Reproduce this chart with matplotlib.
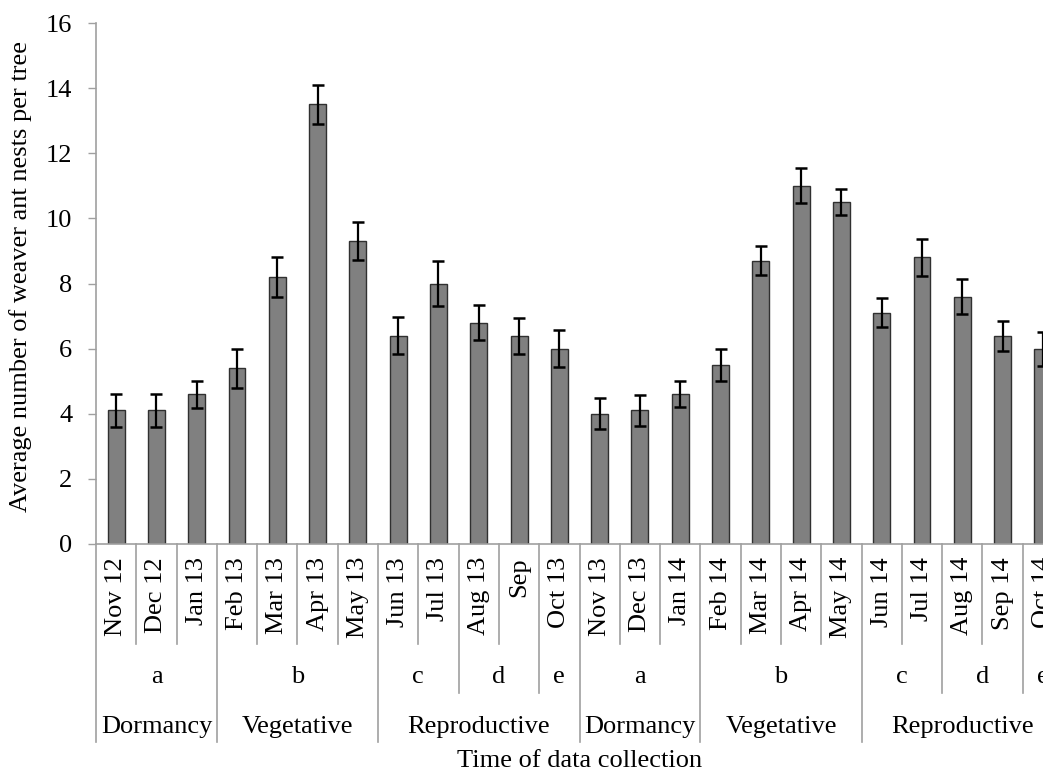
import numpy as np
import matplotlib
matplotlib.use("Agg")
import matplotlib.pyplot as plt
from matplotlib.transforms import blended_transform_factory

months = ["Nov 12", "Dec 12", "Jan 13", "Feb 13", "Mar 13", "Apr 13", "May 13",
          "Jun 13", "Jul 13", "Aug 13", "Sep", "Oct 13",
          "Nov 13", "Dec 13", "Jan 14", "Feb 14", "Mar 14", "Apr 14", "May 14",
          "Jun 14", "Jul 14", "Aug 14", "Sep 14", "Oct 14"]
means = [4.1, 4.1, 4.6, 5.4, 8.2, 13.5, 9.3, 6.4, 8.0, 6.8, 6.4, 6.0,
         4.0, 4.1, 4.6, 5.5, 8.7, 11.0, 10.5, 7.1, 8.8, 7.6, 6.4, 6.0]
errors = [0.5, 0.5, 0.42, 0.6, 0.6, 0.6, 0.58, 0.58, 0.68, 0.55, 0.55, 0.57,
          0.47, 0.48, 0.4, 0.5, 0.45, 0.54, 0.4, 0.44, 0.57, 0.54, 0.46, 0.52]
group_letters = ["a", "b", "c", "d", "e", "a", "b", "c", "d", "e"]
group_sizes = [3, 4, 2, 2, 1, 3, 4, 2, 2, 1]
phases = ["Dormancy", "Vegetative", "Reproductive",
          "Dormancy", "Vegetative", "Reproductive"]
phase_sizes = [3, 4, 5, 3, 4, 5]
yticks = [0, 2, 4, 6, 8, 10, 12, 14, 16]

W, H = 1043, 769
FONT = "Liberation Serif"
FS = 19
GRAY = "#a0a0a0"

fig = plt.figure(figsize=(W / 100, H / 100), dpi=100)
plt.rcParams["font.family"] = [FONT, "DejaVu Serif"]

x0, x1 = 96, 1063
ytop, ybase = 23, 544
ax = fig.add_axes([x0 / W, 1 - ybase / H, (x1 - x0) / W, (ybase - ytop) / H])

n = len(months)
x = np.arange(n)
ax.bar(x, means, width=0.42, color="#808080", edgecolor="#303030", linewidth=1.0, zorder=2)
ax.errorbar(x, means, yerr=errors, fmt="none", ecolor="black", elinewidth=1.6,
            capsize=4.6, capthick=1.8, zorder=3)

ax.set_xlim(-0.5, n - 0.5)
ax.set_ylim(0, 16)
ax.set_yticks(yticks)
ax.set_yticklabels([str(v) for v in yticks], fontsize=FS, family=FONT)
ax.tick_params(axis="y", direction="out", length=6, width=1, color=GRAY, pad=11)
ax.set_xticks([])
for s in ["top", "right"]:
    ax.spines[s].set_visible(False)
for s in ["left", "bottom"]:
    ax.spines[s].set_color(GRAY)
    ax.spines[s].set_linewidth(1.2)

tr = blended_transform_factory(ax.transData, fig.transFigure)

def fy(py):
    return 1 - py / H

# boundaries
phase_bounds = set(np.cumsum([0] + phase_sizes))
group_bounds = set(np.cumsum([0] + group_sizes))
for k in range(n + 1):
    if k in phase_bounds:
        yb = 742
    elif k in group_bounds:
        yb = 693
    else:
        yb = 644
    ax.plot([k - 0.5, k - 0.5], [fy(ybase), fy(yb)], color=GRAY, lw=1.2,
            transform=tr, clip_on=False)

# month labels
for i, m in enumerate(months):
    ax.text(i, fy(557), m, rotation=90, ha="center", va="top", fontsize=FS,
            family=FONT, transform=tr)

# group letters
start = 0
for lab, sz in zip(group_letters, group_sizes):
    c = start + sz / 2 - 0.5
    ax.text(c, fy(683), lab, ha="center", va="baseline", fontsize=FS,
            family=FONT, transform=tr)
    start += sz

# phases
start = 0
for lab, sz in zip(phases, phase_sizes):
    c = start + sz / 2 - 0.5
    ax.text(c, fy(733), lab, ha="center", va="baseline", fontsize=FS,
            family=FONT, transform=tr)
    start += sz

ax.text((n - 1) / 2, fy(767), "Time of data collection", ha="center",
        va="baseline", fontsize=FS, family=FONT, transform=tr)

fig.text(21 / W, fy(276), "Average number of weaver ant nests per tree",
         rotation=90, ha="center", va="center", fontsize=FS, family=FONT)

fig.savefig("out.png", dpi=100)
